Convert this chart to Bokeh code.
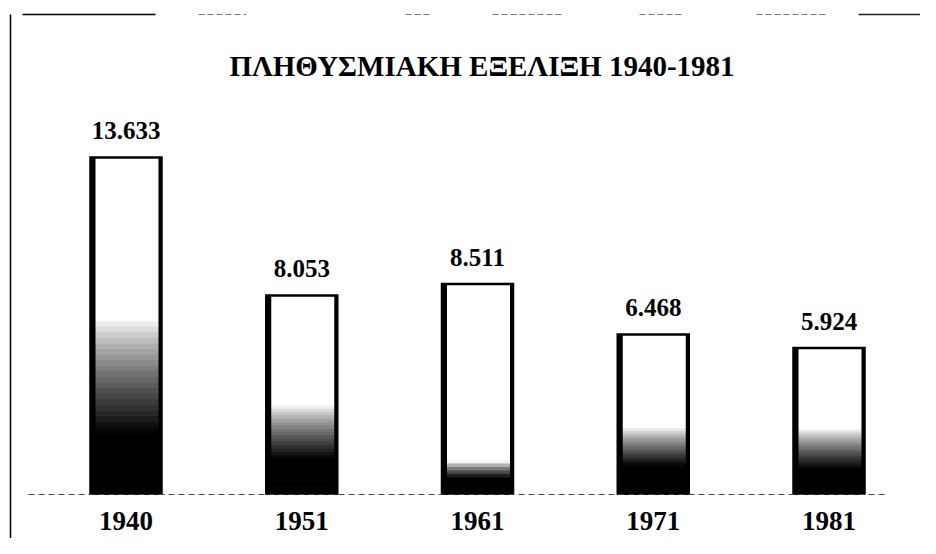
from bokeh.plotting import figure
from bokeh.models import Range1d, Label
from bokeh.core.properties import value
from bokeh.embed import file_html
from bokeh.resources import INLINE

# ---- data ----
years = ["1940", "1951", "1961", "1971", "1981"]
population = [13633, 8053, 8511, 6468, 5924]
value_labels = ["13.633", "8.053", "8.511", "6.468", "5.924"]
title_text = "ΠΛΗΘΥΣΜΙΑΚΗ ΕΞΕΛΙΞΗ 1940-1981"

# ---- styles ----
solid_frac = [0.18, 0.18, 0.08, 0.18, 0.18]
fade_frac = [0.52, 0.45, 0.16, 0.42, 0.45]
FONT_NAME = "serif"
FONT = value(FONT_NAME)

W, H = 920, 538
PX_X = 175.75            # px per category step
PX_Y = 337.0 / 13633.0   # px per population unit
BASE_FROM_BOTTOM = H - 494
x0 = -125.5 / PX_X
y0 = -BASE_FROM_BOTTOM / PX_Y


def px2x(px):
    return x0 + px / PX_X


def px2y(py_top):
    return y0 + (H - py_top) / PX_Y


p = figure(width=W, height=H,
           x_range=Range1d(x0, x0 + W / PX_X),
           y_range=Range1d(y0, y0 + H / PX_Y),
           x_axis_location=None, y_axis_location=None,
           output_backend="svg", toolbar_location=None,
           min_border=0)
p.grid.visible = False
p.outline_line_color = None
p.background_fill_color = "white"
p.border_fill_color = "white"

idx = list(range(len(years)))
BW = 71.0 / PX_X

# gradient bars (stacked slices)
N = 60
L, R, B, T, C = [], [], [], [], []
for i, v in enumerate(population):
    for j in range(N):
        f = (j + 0.5) / N
        if f <= solid_frac[i]:
            d = 1.0
        elif f >= fade_frac[i]:
            d = 0.0
        else:
            d = 1.0 - (f - solid_frac[i]) / (fade_frac[i] - solid_frac[i])
            d = d ** 0.8
        g = int(round(255 * (1 - d)))
        L.append(i - BW / 2)
        R.append(i + BW / 2)
        B.append(v * j / N)
        T.append(v * (j + 1) / N)
        C.append("#%02x%02x%02x" % (g, g, g))
p.quad(left=L, right=R, bottom=B, top=T, fill_color=C, line_color=C, line_width=1)

# dark edge stripes (full height)
p.quad(left=[i - BW / 2 for i in idx], right=[i - BW / 2 + 5 / PX_X for i in idx],
       bottom=[0] * 5, top=population, fill_color="black", line_color=None)
p.quad(left=[i + BW / 2 - 3 / PX_X for i in idx], right=[i + BW / 2 for i in idx],
       bottom=[0] * 5, top=population, fill_color="black", line_color=None)

# bar outlines (left, top, right edges)
xs, ys = [], []
for i, v in enumerate(population):
    xs.append([i - BW / 2, i - BW / 2, i + BW / 2, i + BW / 2])
    ys.append([0, v, v, 0])
p.multi_line(xs=xs, ys=ys, line_color="black", line_width=2.5, line_join="miter")

# baseline
p.line(x=[px2x(28), px2x(885)], y=[0, 0], line_color="#444444",
       line_dash="6 4", line_width=1)

# frame lines (left & top)
p.line(x=[px2x(10), px2x(10)], y=[px2y(545), px2y(14)], line_color="black", line_width=1.5)
p.line(x=[px2x(22), px2x(155)], y=[px2y(14), px2y(14)], line_color="black", line_width=1.5)
for a, b in [(198, 246), (405, 432), (492, 564), (639, 681), (756, 828)]:
    p.line(x=[px2x(a), px2x(b)], y=[px2y(14), px2y(14)], line_color="#777777",
           line_width=1, line_dash="6 3")
p.line(x=[px2x(858), px2x(920)], y=[px2y(14), px2y(14)], line_color="#222222", line_width=1.5)

# value labels
p.text(x=idx, y=population, text=value_labels, y_offset=-27,
       text_font=FONT, text_font_style="bold", text_font_size="25px",
       text_align="center", text_baseline="middle", text_color="black")

# year labels
p.text(x=idx, y=[px2y(520)] * 5, text=years,
       text_font=FONT, text_font_style="bold", text_font_size="27px",
       text_align="center", text_baseline="middle", text_color="black")

# title
p.add_layout(Label(x=481.5, y=H - 65, x_units="screen", y_units="screen",
                   text=title_text, text_font=FONT_NAME,
                   text_font_style="bold", text_font_size="29px",
                   text_align="center", text_baseline="middle", text_color="black"))

open("out.html", "w").write(file_html(p, INLINE))
